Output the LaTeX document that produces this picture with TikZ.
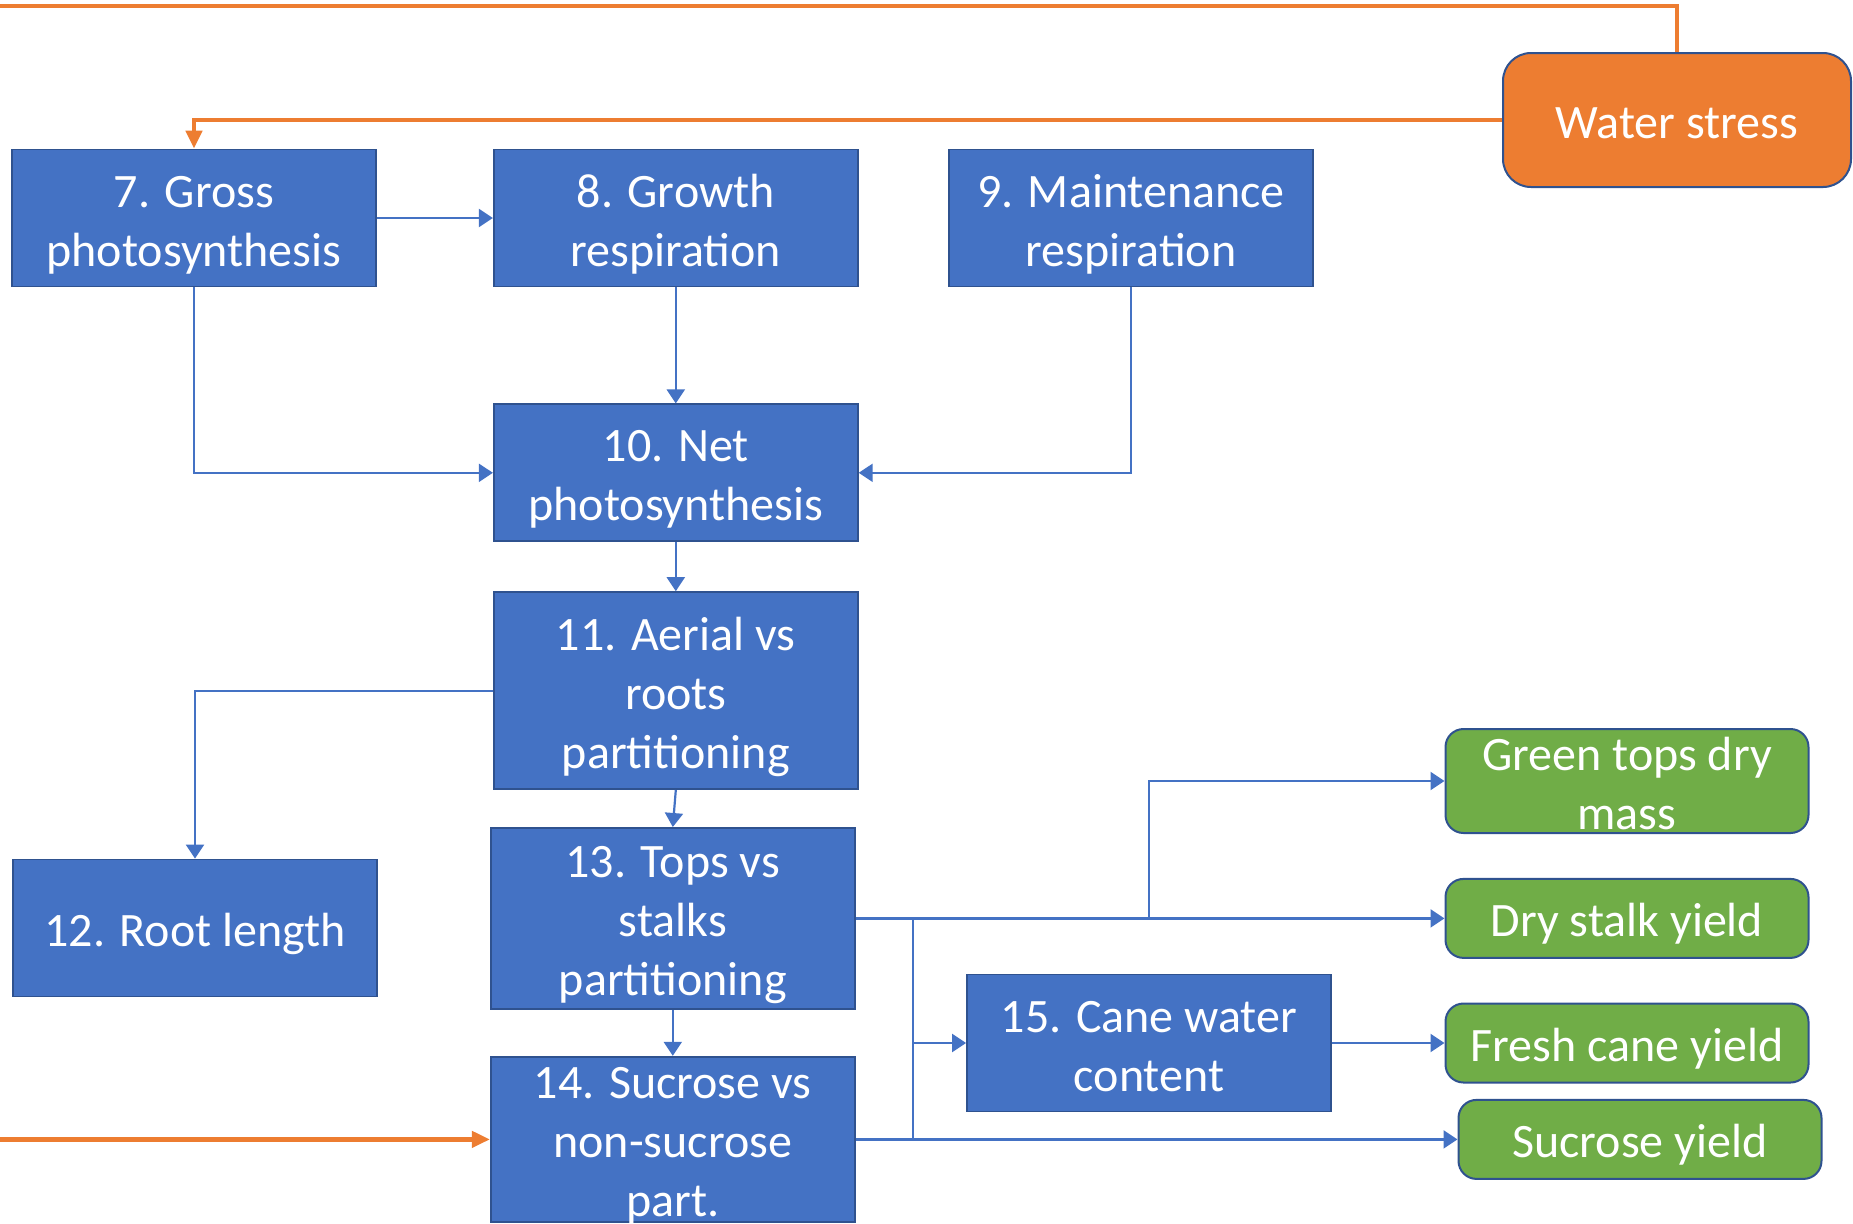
\documentclass[tikz,border=0pt]{standalone}
\usepackage{fontspec}
\setmainfont{Carlito}
\usetikzlibrary{arrows.meta, positioning, calc}
\definecolor{boxblue}{HTML}{4472C4}
\definecolor{edgeblue}{HTML}{2F528F}
\definecolor{stressorange}{HTML}{ED7D31}
\definecolor{yieldgreen}{HTML}{70AD47}
\newcommand{\lineup}[1][24pt]{\rule{0pt}{#1}}
\tikzstyle{process} = [rectangle, minimum width=182pt, minimum height=68.5pt, inner sep=0pt, align=center, draw=edgeblue, line width=0.9pt, fill=boxblue, text=white]
\tikzstyle{yield} = [rectangle, rounded corners=9pt, minimum width=181.5pt, minimum height=39.5pt, inner sep=0pt, align=center, draw=edgeblue, line width=1pt, fill=yieldgreen, text=white]
\tikzstyle{stress} = [rectangle, rounded corners=14pt, minimum width=174pt, minimum height=67pt, inner sep=0pt, align=center, draw=edgeblue, line width=1pt, fill=stressorange, text=white]
\tikzstyle{arrow} = [line width=1.1pt, -{Triangle[length=7pt, width=9pt]}, color=boxblue]
\tikzstyle{link} = [line width=1.1pt, color=boxblue]
\tikzstyle{stressarrow} = [line width=2.2pt, -{Triangle[length=9pt, width=8pt]}, color=stressorange]
\tikzstyle{stressline} = [line width=2.2pt, color=stressorange]

\begin{document}
\begin{tikzpicture}[node distance=1.2cm, every node/.style={font=\fontsize{24}{29.5}\selectfont,
    execute at begin node={\rule{0pt}{24pt}}, execute at end node={\rule[-5.5pt]{0pt}{0pt}}}]
    \useasboundingbox (0,0) rectangle (926.5pt,-611.5pt);

    \node[stress] (water) at (838.5pt,-60pt) {Water stress};

    \node[process] (gross) at (97pt,-109pt) {\lineup 7. Gross\\photosynthesis};
    \node[process, right=58pt of gross] (growth) {\lineup 8. Growth\\respiration};
    \node[process, right=44.7pt of growth] (maint) {\lineup 9. Maintenance\\respiration};
    \node[process, below=58pt of growth] (net) {\lineup 10. Net\\photosynthesis};
    \node[process, below=24.5pt of net, minimum height=98.5pt] (aerial) {\lineup 11. Aerial vs\\roots\\partitioning};
    \node[process, below=18.5pt of aerial, xshift=-1.5pt, minimum height=90.5pt] (tops) {\lineup 13. Tops vs\\stalks\\partitioning};
    \node[process, below=23pt of tops, minimum height=82.7pt, text depth=0pt] (sucrose) {\lineup[18pt]14. Sucrose vs\\non-sucrose\\part.};
    \node[process] (root) at (97.5pt,-464pt) {12. Root length};
    \node[process] (cane) at (574.5pt,-521.5pt) {\lineup 15. Cane water\\content};

    \node[yield, minimum height=52pt, text depth=2pt] (green) at (813.5pt,-390.5pt) {\lineup[20.5pt]Green tops dry\\mass};
    \node[yield] (drystalk) at (green |- tops) {Dry stalk yield};
    \node[yield] (fresh) at (green |- cane) {Fresh cane yield};
    \node[yield] (sucyield) at (820pt,0 |- sucrose) {Sucrose yield};

    \coordinate (topleft) at (-5pt,-3pt);
    \coordinate (leftin) at (-5pt,0);
    \coordinate (greensplit) at (tops.east -| cane.north);
    \coordinate (stalkjoin) at ($(tops.east)+(28.5pt,0)$);

    % water stress inputs
    \draw[stressline] (water.north) |- (topleft);
    \draw[stressarrow] (water.west) -| (gross.north);
    \draw[stressarrow] (sucrose.west -| leftin) -- (sucrose.west);

    \draw[arrow] (gross) -- (growth);
    \draw[arrow] (gross.south) |- (net.west);
    \draw[arrow] (growth) -- (net);
    \draw[arrow] (maint.south) |- (net.east);
    \draw[arrow] (net) -- (aerial);
    \draw[arrow] (aerial.west) -| (root.north);
    \draw[arrow] (aerial.south) -- (tops.north);
    \draw[arrow] (tops) -- (sucrose);

    % outputs
    \draw[arrow] (tops.east) -- (drystalk.west);
    \draw[arrow] (greensplit) |- (green.west);
    \draw[link] (stalkjoin) -- (stalkjoin |- sucrose.east);
    \draw[arrow] (stalkjoin |- cane.west) -- (cane.west);
    \draw[arrow] (cane) -- (fresh);
    \draw[arrow] (sucrose.east) -- (sucyield.west);
\end{tikzpicture}
\end{document}
